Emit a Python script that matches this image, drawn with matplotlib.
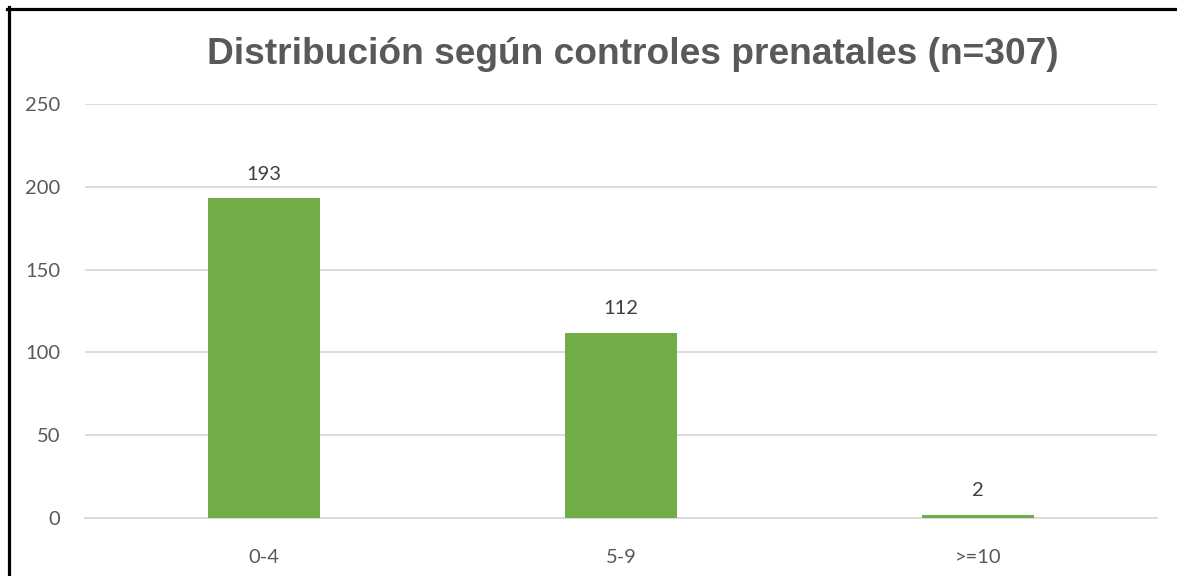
import matplotlib.pyplot as plt
from matplotlib.lines import Line2D
import numpy as np

# datos
categorias = ["0-4", "5-9", ">=10"]
valores = [193, 112, 2]
yticks = [0, 50, 100, 150, 200, 250]

titulo = "Distribución según controles prenatales (n=307)"

fig = plt.figure(figsize=(11.77, 5.76), dpi=100)
ax = fig.add_axes([85/1177, 1 - 518/576, 1072/1177, 414/576])

x = np.arange(len(categorias))
barras = ax.bar(x, valores, width=0.313, color="#70AD47", zorder=3)

# etiquetas de valores
for xi, v in zip(x, valores):
    ax.annotate(str(v), (xi, v), xytext=(0, 11), textcoords="offset points",
                ha="center", va="bottom", fontsize=14.5, family="Lato", color="#404040")

ax.set_xlim(-0.5, len(categorias) - 0.5)
ax.set_ylim(0, 250)
ax.set_yticks(yticks)
ax.set_xticks(x)
ax.set_xticklabels(categorias)
ax.yaxis.grid(True, color="#D9D9D9", linewidth=1.3, zorder=0)
ax.set_axisbelow(True)
for s in ["top", "right", "left"]:
    ax.spines[s].set_visible(False)
ax.spines["bottom"].set_color("#D9D9D9")
ax.spines["bottom"].set_linewidth(1.3)
ax.tick_params(axis="both", length=0, labelsize=14.5, labelcolor="#595959")
ax.tick_params(axis="x", pad=22)
ax.tick_params(axis="y", pad=18)
for lab in ax.get_xticklabels() + ax.get_yticklabels():
    lab.set_family("Lato")

fig.text(0.538, 0.905, titulo, ha="center", va="center", fontsize=26.7,
         fontweight="bold", family="Liberation Sans", color="#595959")

# borde negro (arriba e izquierda)
fig.add_artist(Line2D([7/1177, 1], [1 - 8.5/576, 1 - 8.5/576], color="black", linewidth=2.3, transform=fig.transFigure))
fig.add_artist(Line2D([8.5/1177, 8.5/1177], [0, 1 - 7/576], color="black", linewidth=2.3, transform=fig.transFigure))

fig.savefig("out.png", dpi=100)
